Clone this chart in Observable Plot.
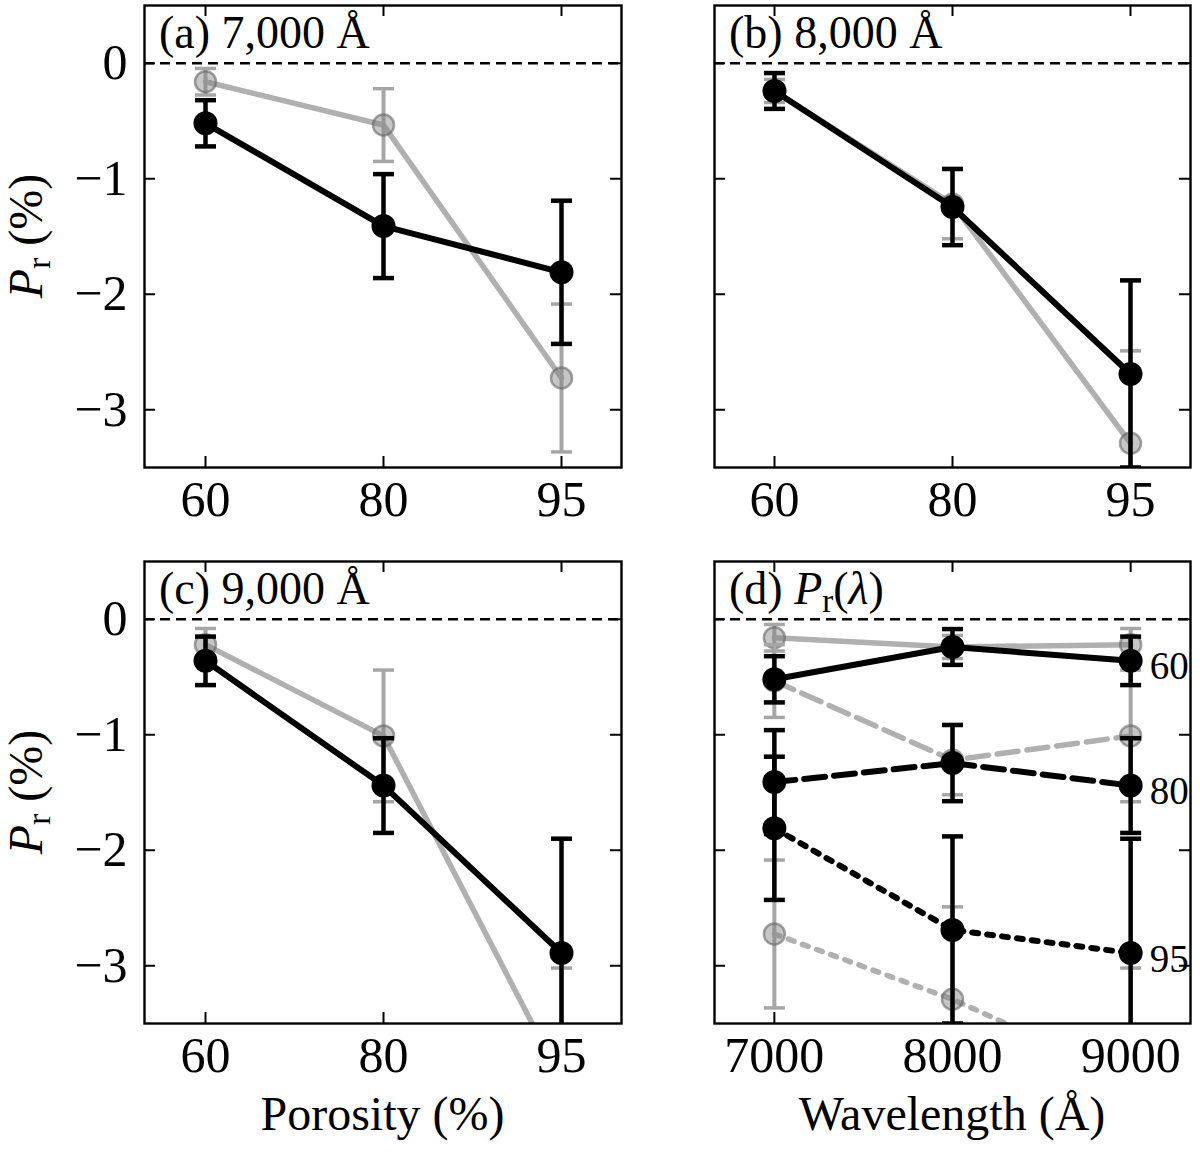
<!DOCTYPE html>
<html>
<head>
<meta charset="utf-8">
<script src="https://cdn.jsdelivr.net/npm/d3@7"></script>
<script src="https://cdn.jsdelivr.net/npm/@observablehq/plot@0.6"></script>
<style>
  body { margin: 0; background: #fff; }
  #figure { position: relative; width: 1200px; height: 1160px; }
  #figure > svg { position: absolute; }
</style>
</head>
<body>
<div id="figure"></div>
<script>
// values (P_r in %)
const porosities = [60, 80, 95];
const wavelengths = [7000, 8000, 9000];
const panelTitles = ["(a) 7,000 Å", "(b) 8,000 Å", "(c) 9,000 Å"];
const yTicks = [-3, -2, -1, 0];

// black series, columns = 7000 / 8000 / 9000 Å
const black60 = [-0.52, -0.24, -0.36];
const black80 = [-1.41, -1.245, -1.44];
const black95 = [-1.81, -2.69, -2.89];
const blackErr60 = [0.2, 0.155, 0.21];
const blackErr80 = [0.45, 0.33, 0.41];
const blackErr95 = [0.62, 0.81, 0.99];

// grey series
const grey60 = [-0.16, -0.24, -0.22];
const grey80 = [-0.535, -1.22, -1.01];
const grey95 = [-2.725, -3.29, -3.99];
const greyErr60 = [0.115, 0.1, 0.14];
const greyErr80 = [0.315, 0.3, 0.57];
const greyErr95 = [0.64, 0.8, 0.97];

const series = [
  {kind: "grey", porosity: 60, values: grey60, errors: greyErr60},
  {kind: "grey", porosity: 80, values: grey80, errors: greyErr80},
  {kind: "grey", porosity: 95, values: grey95, errors: greyErr95},
  {kind: "black", porosity: 60, values: black60, errors: blackErr60},
  {kind: "black", porosity: 80, values: black80, errors: blackErr80},
  {kind: "black", porosity: 95, values: black95, errors: blackErr95},
];
const rows = series.flatMap((s) =>
  wavelengths.map((w, i) => ({
    kind: s.kind,
    porosity: s.porosity,
    wavelength: w,
    value: s.values[i],
    err: s.errors[i],
  })),
);

const serif = '"Liberation Serif", "Times New Roman", serif';
const look = {
  black: {line: "#000", lineWidth: 6, bar: "#000", barWidth: 4.5, capWidth: 4.5,
          dot: {r: 12, fill: "#000"}},
  grey: {line: "#b0b0b0", lineWidth: 5.5, bar: "#a6a6a6", barWidth: 4, capWidth: 3.5,
         dot: {r: 10.5, fill: "#808080", fillOpacity: 0.45, stroke: "#666", strokeOpacity: 0.6, strokeWidth: 2.5}},
};
const dashes = {60: undefined, 80: "21,9", 95: "6,9"};

// horizontal bar used as error-bar cap
const capSymbol = {
  draw(context, size) {
    const r = Math.sqrt(size / Math.PI);
    context.moveTo(-r, 0);
    context.lineTo(r, 0);
  },
};

const fmtY = (d) => (d < 0 ? `\u2212${-d}` : `${d}`);

function seriesMarks(data, xKey, kind, dash) {
  const s = look[kind];
  const cap = {x: xKey, symbol: capSymbol, r: 10.5, fill: "none", stroke: s.bar, strokeWidth: s.capWidth, clip: true};
  return [
    Plot.line(data, {x: xKey, y: "value", stroke: s.line, strokeWidth: s.lineWidth, strokeDasharray: dash, clip: true}),
    Plot.ruleX(data, {x: xKey, y1: (d) => d.value - d.err, y2: (d) => d.value + d.err, stroke: s.bar, strokeWidth: s.barWidth, clip: true}),
    Plot.dot(data, {...cap, y: (d) => d.value - d.err}),
    Plot.dot(data, {...cap, y: (d) => d.value + d.err}),
    Plot.dot(data, {x: xKey, y: "value", ...s.dot, clip: true}),
  ];
}

// frame boxes in page pixels
const cols = [{left: 144, right: 621, svgLeft: 0, svgWidth: 660},
              {left: 714, right: 1190, svgLeft: 660, svgWidth: 540}];
const rowsLayout = [{top: 5, bottom: 467, svgTop: 0, svgHeight: 540},
                    {top: 561, bottom: 1023, svgTop: 540, svgHeight: 620}];

function panel(col, row, xOpts, xTicks, xFmt, marks, yLabels) {
  const c = cols[col], r = rowsLayout[row];
  const fw = c.right - c.left, fh = r.bottom - r.top;
  const tk = 11;
  const plot = Plot.plot({
    width: c.svgWidth,
    height: r.svgHeight,
    marginLeft: c.left - c.svgLeft,
    marginRight: c.svgLeft + c.svgWidth - c.right,
    marginTop: r.top - r.svgTop,
    marginBottom: r.svgTop + r.svgHeight - r.bottom,
    style: {fontFamily: serif, fontSize: "50px", color: "#000", background: "transparent", overflow: "visible"},
    x: {...xOpts, axis: null, label: null},
    y: {domain: [-3.5, 0.5], axis: null, label: null},
    marks: [
      Plot.ruleY([0], {stroke: "#000", strokeWidth: 2.5, strokeDasharray: "10,6"}),
      ...marks,
      Plot.tickY(yTicks, {y: (d) => d, insetRight: fw - tk, stroke: "#000", strokeWidth: 2}),
      Plot.tickY(yTicks, {y: (d) => d, insetLeft: fw - tk, stroke: "#000", strokeWidth: 2}),
      Plot.tickX(xTicks, {x: (d) => d, insetTop: fh - tk, stroke: "#000", strokeWidth: 2}),
      Plot.tickX(xTicks, {x: (d) => d, insetBottom: fh - tk, stroke: "#000", strokeWidth: 2}),
      Plot.axisX(xTicks, {tickSize: 0, tickPadding: 13, tickFormat: xFmt, label: null}),
      yLabels ? Plot.axisY(yTicks, {tickSize: 0, tickPadding: 17, tickFormat: fmtY, label: null}) : null,
      Plot.frame({stroke: "#000", strokeWidth: 2.4}),
    ],
  });
  plot.style.left = `${c.svgLeft}px`;
  plot.style.top = `${r.svgTop}px`;
  return plot;
}

const fig = document.getElementById("figure");
const porosityX = {type: "point", domain: porosities, padding: 0.336};

// panels (a), (b), (c): P_r vs porosity at one wavelength
[[0, 0], [1, 0], [0, 1]].forEach(([col, row], i) => {
  const w = wavelengths[i];
  const marks = ["grey", "black"].flatMap((kind) =>
    seriesMarks(rows.filter((d) => d.kind === kind && d.wavelength === w), "porosity", kind),
  );
  fig.appendChild(panel(col, row, porosityX, porosities, (d) => `${d}`, marks, col === 0));
});

// panel (d): P_r vs wavelength for each porosity
const marksD = ["grey", "black"].flatMap((kind) =>
  porosities.flatMap((p) =>
    seriesMarks(rows.filter((d) => d.kind === kind && d.porosity === p), "wavelength", kind, dashes[p]),
  ),
);
marksD.push(
  Plot.text(rows.filter((d) => d.kind === "black" && d.wavelength === 9000), {
    x: "wavelength", y: "value", text: (d) => `${d.porosity}`,
    dx: 19, dy: 6, textAnchor: "start", fontSize: 39, fill: "#000",
  }),
);
fig.appendChild(panel(1, 1, {domain: [6664, 9336]}, wavelengths, d3.format("d"), marksD, false));

// titles and axis labels
const ns = "http://www.w3.org/2000/svg";
const overlay = document.createElementNS(ns, "svg");
overlay.setAttribute("width", 1200);
overlay.setAttribute("height", 1160);
overlay.style.left = "0px";
overlay.style.top = "0px";
overlay.style.pointerEvents = "none";
overlay.setAttribute("font-family", serif);
const pos = [[0, 0], [1, 0], [0, 1], [1, 1]];
const titleSvg = [...panelTitles, '(d) <tspan font-style="italic">P</tspan><tspan font-size="33" dy="8">r</tspan><tspan dy="-8">(</tspan><tspan font-style="italic">λ</tspan>)'];
let html = "";
pos.forEach(([c, r], i) => {
  html += `<text x="${cols[c].left + 15}" y="${rowsLayout[r].top + 43}" font-size="46">${titleSvg[i]}</text>`;
});
rowsLayout.forEach((r) => {
  const cy = (r.top + r.bottom) / 2;
  html += `<text transform="translate(42,${cy}) rotate(-90)" text-anchor="middle" font-size="48"><tspan font-style="italic">P</tspan><tspan font-size="34" dy="8">r</tspan><tspan dy="-8"> (%)</tspan></text>`;
});
html += `<text x="${(cols[0].left + cols[0].right) / 2}" y="1130" text-anchor="middle" font-size="48">Porosity (%)</text>`;
html += `<text x="${(cols[1].left + cols[1].right) / 2}" y="1130" text-anchor="middle" font-size="48">Wavelength (Å)</text>`;
overlay.innerHTML = html;
fig.appendChild(overlay);
</script>
</body>
</html>
